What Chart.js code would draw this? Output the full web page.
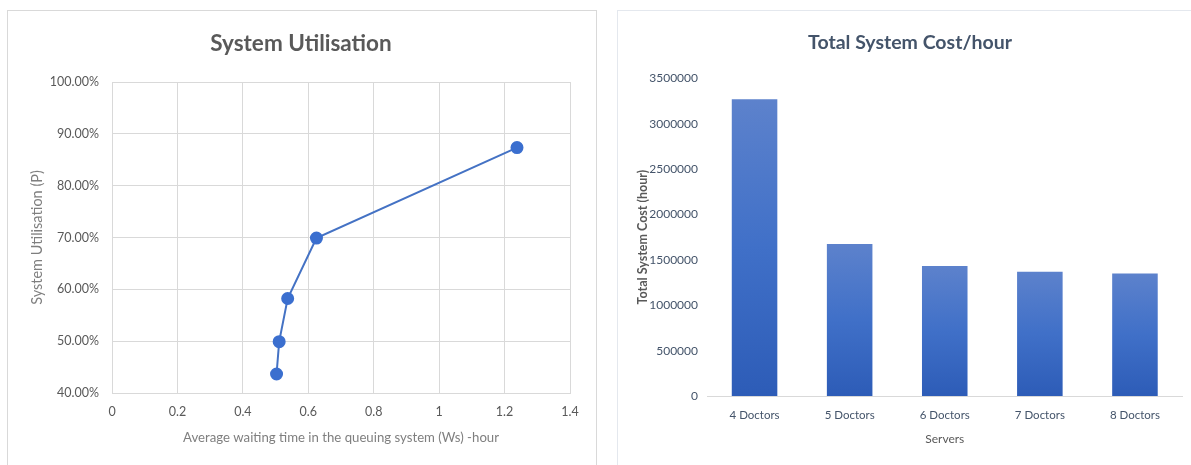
<!DOCTYPE html>
<html>
<head>
<meta charset="utf-8">
<script src="https://cdn.jsdelivr.net/npm/chart.js@4.4.1/dist/chart.umd.min.js"></script>
<style>
  html, body { margin: 0; padding: 0; background: #fff; overflow: hidden; }
  .panel { position: absolute; top: 10px; box-sizing: border-box; background: #fff; }
  #left { left: 7px; width: 590px; height: 470px; border: 1px solid #d9d9d9; }
  #right { left: 617px; width: 590px; height: 470px; border: 1px solid #e4e8ee; }
  .box { position: absolute; left: 0; top: 0; }
  #left .box { width: 586px; height: 454px; }
  #right .box { width: 584px; height: 454px; }
</style>
</head>
<body>
<div class="panel" id="left"><div class="box"><canvas id="util"></canvas></div></div>
<div class="panel" id="right"><div class="box"><canvas id="cost"></canvas></div></div>
<script>
// waiting time Ws (hours) vs utilisation, 8 down to 4 doctors
const waitHours = [0.503, 0.511, 0.537, 0.625, 1.238];
const utilisation = [0.4367, 0.4991, 0.5823, 0.6988, 0.8734];

const servers = ['4 Doctors', '5 Doctors', '6 Doctors', '7 Doctors', '8 Doctors'];
const costPerHour = [3280000, 1685000, 1445000, 1380000, 1360000];

const FONT = "Lato, 'Open Sans', sans-serif";
const INK = '#595959';
const SLATE = '#44546a';
const GRID = '#d9d9d9';
const BLUE = '#4472c4';
Chart.defaults.font.family = FONT;
Chart.defaults.color = INK;
Chart.defaults.animation = false;

const fixWidth = (w) => (scale) => { scale.width = w; };
const fixHeight = (h) => (scale) => { scale.height = h; };

// empty right-hand axis: keeps a margin after the plot without shifting the title
const spacer = (w) => ({
  position: 'right',
  min: 0,
  max: 1,
  ticks: { display: false },
  grid: { display: false, drawTicks: false },
  border: { display: false },
  afterFit: fixWidth(w),
});

new Chart(document.getElementById('util'), {
  type: 'line',
  data: {
    datasets: [{
      data: waitHours.map((x, i) => ({ x, y: utilisation[i] })),
      borderColor: BLUE,
      borderWidth: 2,
      pointRadius: 5.5,
      pointBackgroundColor: '#3b6fcf',
      pointBorderColor: '#3b6fcf',
      tension: 0,
    }],
  },
  options: {
    responsive: true,
    maintainAspectRatio: false,
    layout: { padding: 0 },
    plugins: {
      legend: { display: false },
      tooltip: { enabled: false },
      title: {
        display: true,
        text: 'System Utilisation',
        color: INK,
        font: { size: 22.5, weight: 'bold' },
        padding: { top: 19, bottom: 25 },
      },
    },
    scales: {
      x: {
        type: 'linear',
        min: 0,
        max: 1.4,
        ticks: {
          stepSize: 0.2,
          padding: 11,
          font: { size: 12.5 },
          color: INK,
          callback: (v) => String(Math.round(v * 10) / 10),
        },
        grid: { color: GRID, drawTicks: false },
        border: { color: GRID },
        title: {
          display: true,
          text: 'Average waiting time in the queuing system (Ws) -hour',
          color: '#7f7f7f',
          font: { size: 13.2 },
          padding: { bottom: 19 },
        },
        afterFit: fixHeight(72),
      },
      y: {
        min: 0.4,
        max: 1.0,
        ticks: {
          stepSize: 0.1,
          padding: 13,
          font: { size: 12.5 },
          color: INK,
          callback: (v) => (v * 100).toFixed(2) + '%',
        },
        grid: { color: GRID, drawTicks: false },
        border: { color: GRID },
        title: {
          display: true,
          text: 'System Utilisation (P)',
          color: '#7f7f7f',
          font: { size: 14.5 },
          padding: { top: 21 },
        },
        afterFit: fixWidth(104),
      },
      pad: spacer(24),
    },
  },
});

// each bar fades from a lighter blue at its top to a deeper blue at its base
const barGradient = (c) => {
  const chart = c.chart;
  const area = chart.chartArea;
  if (!area || c.dataIndex === undefined) { return BLUE; }
  const top = chart.scales.y.getPixelForValue(costPerHour[c.dataIndex]);
  const g = chart.ctx.createLinearGradient(0, top, 0, area.bottom);
  g.addColorStop(0, '#5d82cc');
  g.addColorStop(0.5, '#4070c8');
  g.addColorStop(1, '#2d5cb7');
  return g;
};

new Chart(document.getElementById('cost'), {
  type: 'bar',
  data: {
    labels: servers,
    datasets: [{
      data: costPerHour,
      backgroundColor: barGradient,
      borderColor: 'rgba(255,255,255,0.5)',
      borderWidth: 1,
      barPercentage: 0.5,
      categoryPercentage: 1,
    }],
  },
  options: {
    responsive: true,
    maintainAspectRatio: false,
    layout: { padding: 0 },
    plugins: {
      legend: { display: false },
      tooltip: { enabled: false },
      title: {
        display: true,
        text: 'Total System Cost/hour',
        color: SLATE,
        font: { size: 19.5, weight: 'bold' },
        padding: { top: 20, bottom: 24 },
      },
    },
    scales: {
      x: {
        ticks: { padding: 12, font: { size: 11.5 }, color: SLATE },
        grid: { display: false, drawTicks: false },
        border: { color: GRID },
        title: {
          display: true,
          text: 'Servers',
          color: INK,
          font: { size: 12 },
          padding: { bottom: 19 },
        },
        afterFit: fixHeight(69),
      },
      y: {
        min: 0,
        max: 3500000,
        ticks: {
          stepSize: 500000,
          padding: 9,
          font: { size: 12 },
          color: SLATE,
          callback: (v) => String(v),
        },
        grid: { display: false, drawTicks: false },
        border: { display: false },
        title: {
          display: true,
          text: 'Total System Cost (hour)',
          color: INK,
          font: { size: 12.5, weight: 'bold' },
          padding: { top: 17 },
        },
        afterFit: fixWidth(89),
      },
      pad: spacer(19.5),
    },
  },
});
</script>
</body>
</html>
